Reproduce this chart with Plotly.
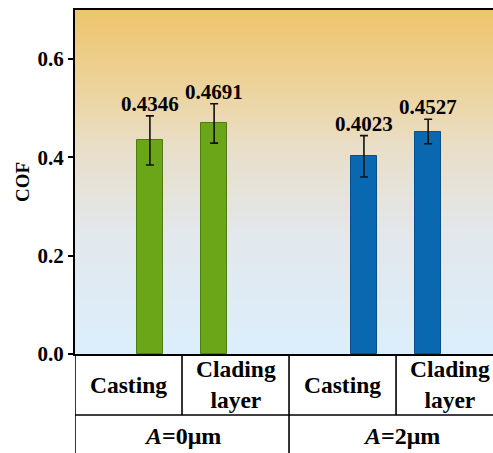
import plotly.graph_objects as go

# Coefficient of friction: mean and standard deviation for each sample
samples = ["Casting", "Clading<br>layer", "Casting", "Clading<br>layer"]
groups = ["<i>A</i>=0μm", "<i>A</i>=2μm"]
cof_mean = [0.4346, 0.4691, 0.4023, 0.4527]
cof_err = [0.050, 0.040, 0.042, 0.025]
bar_colors = ["#6AA617", "#6AA617", "#0A68B0", "#0A68B0"]
edge_colors = ["#4C7D12", "#4C7D12", "#084E88", "#084E88"]

# table layout: each sample cell is one x unit wide, two cells per group
bar_x = [0.70, 1.30, 2.70, 3.30]
cell_x = [0.5, 1.5, 2.5, 3.5]
group_x = [1.0, 3.05]
x_max = 3.906
y_max = 0.7

SERIF = "Liberation Serif"

fig = go.Figure()
fig.add_trace(go.Bar(
    x=bar_x, y=cof_mean, width=0.243,
    marker=dict(color=bar_colors, line=dict(color=edge_colors, width=1)),
    error_y=dict(type="data", array=cof_err, visible=True,
                 color="#111111", thickness=1.6, width=4),
    showlegend=False,
))

# vertical background gradient: warm at the top, pale blue at the bottom
stops = [(0.0, (220, 238, 252)), (0.35, (226, 232, 236)),
         (0.6, (233, 222, 200)), (0.8, (237, 210, 150)), (1.0, (238, 196, 108))]


def bg_color(v):
    for (a, ca), (b, cb) in zip(stops[:-1], stops[1:]):
        if a <= v <= b:
            t = (v - a) / (b - a)
            return "rgb(%d,%d,%d)" % tuple(round(ca[i] + t * (cb[i] - ca[i])) for i in range(3))
    return "rgb(%d,%d,%d)" % stops[-1][1]


PLOT_H = 344  # plot area height in px
STRIP_PX = 2
n_strips = PLOT_H // STRIP_PX
shapes = []
for k in range(n_strips):
    p0 = k * STRIP_PX / PLOT_H
    p1 = (k + 1) * STRIP_PX / PLOT_H
    shapes.append(dict(type="rect", xref="paper", yref="paper", x0=0, x1=1,
                       y0=p0, y1=p1, layer="below",
                       line=dict(width=0), fillcolor=bg_color((p0 + p1) / 2)))

# category table under the x axis
row1 = -0.1773
row2 = -0.30
line = dict(color="black", width=1.6)
shapes.append(dict(type="line", xref="x", yref="paper", x0=0, x1=x_max, y0=row1, y1=row1, line=line))
for xv, bottom in [(0, row2), (1, row1), (2, row2), (3, row1)]:
    shapes.append(dict(type="line", xref="x", yref="paper", x0=xv, x1=xv, y0=0, y1=bottom, line=line))

annotations = []
for xv, txt in zip(cell_x, samples):
    annotations.append(dict(x=xv, y=-0.0887, xref="x", yref="paper", text=f"<b>{txt}</b>",
                            showarrow=False, xanchor="center", yanchor="middle",
                            font=dict(family=SERIF, size=23.5, color="black")))
for xv, txt in zip(group_x, groups):
    annotations.append(dict(x=xv, y=-0.237, xref="x", yref="paper", text=f"<b>{txt}</b>",
                            showarrow=False, xanchor="center", yanchor="middle",
                            font=dict(family=SERIF, size=24, color="black")))

# value labels above the error bars
for xv, m, e in zip(bar_x, cof_mean, cof_err):
    annotations.append(dict(x=xv, y=m + e, xref="x", yref="y", text=f"<b>{m:.4f}</b>",
                            showarrow=False, xanchor="center", yanchor="middle", yshift=12,
                            font=dict(family=SERIF, size=21, color="black")))

annotations.append(dict(x=-0.127, y=0.5, xref="paper", yref="paper", text="<b>COF</b>",
                        textangle=-90, showarrow=False, xanchor="center", yanchor="middle",
                        font=dict(family=SERIF, size=19, color="black")))

fig.update_layout(
    width=493, height=453,
    margin=dict(l=75, r=0, t=10, b=99),
    paper_bgcolor="white", plot_bgcolor="white",
    shapes=shapes, annotations=annotations,
    xaxis=dict(range=[0, x_max], showticklabels=False, ticks="", showgrid=False,
               zeroline=False, showline=True, linecolor="black", linewidth=2, mirror=True),
    yaxis=dict(range=[0, y_max], tickvals=[0, 0.2, 0.4, 0.6], tickformat=".1f",
               ticks="outside", ticklen=5, tickwidth=1.6, tickcolor="black",
               showgrid=False, zeroline=False, showline=True, linecolor="black", linewidth=2,
               tickfont=dict(family=SERIF, size=21, color="black", weight="bold")),
    bargap=0,
)

fig.write_html("out.html")
